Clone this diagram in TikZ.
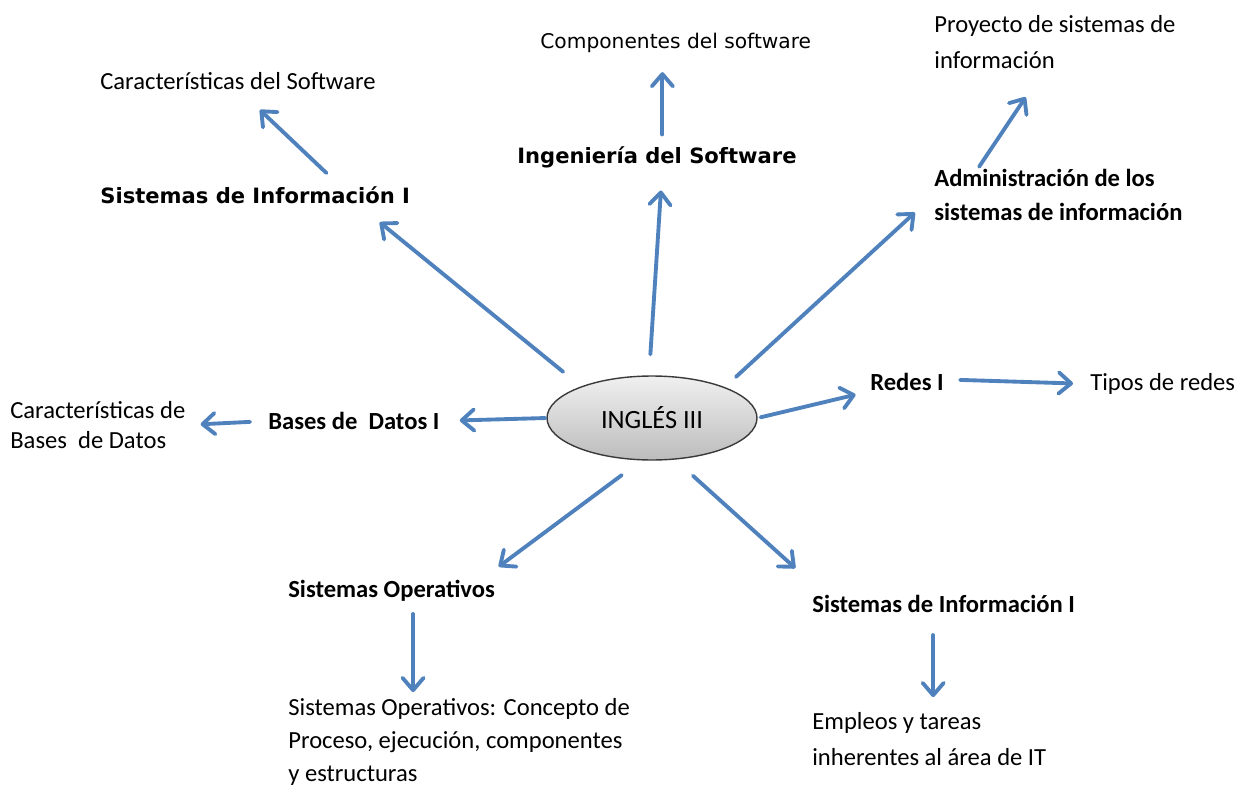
\documentclass[tikz,border=0pt]{standalone}
\usepackage{fontspec}
\setmainfont{Carlito}
\newfontfamily\vfont{DejaVu Sans}
\usepackage{xcolor}
\usetikzlibrary{arrows.meta,shapes.geometric}
\definecolor{arrowblue}{HTML}{4F81BD}
\definecolor{ovalline}{HTML}{3A3A3A}
\definecolor{ovaltop}{HTML}{F0F0F0}
\definecolor{ovalbottom}{HTML}{BCBCBC}

\begin{document}
\begin{tikzpicture}[x=0.02cm,y=-0.02cm,
        txt/.style={anchor=west,inner sep=0pt,align=left,font={\fontsize{14}{19.5}\selectfont}},
        txtb/.style={txt,font={\fontsize{14}{19.5}\selectfont\bfseries}},
        vtxt/.style={txt,font={\vfont\fontsize{12}{15}\selectfont\bfseries}},
        link/.style={arrowblue,line width=2.2pt,line cap=round,-{Straight Barb[length=7pt,width=12pt,round]}}]
        \useasboundingbox (0,0) rectangle (1246,790);
        \node[ellipse,draw=ovalline,line width=0.8pt,top color=ovaltop,bottom color=ovalbottom,
            minimum width=4.2cm,minimum height=1.68cm,inner sep=0pt,font={\fontsize{15}{18}\selectfont}] (root) at (652,418) {INGLÉS III};

        \node[txt] (car1) at (100,81) {Características del Software};
        \node[vtxt] (si1) at (100,195) {Sistemas de Información I};
        \node[txt,font={\vfont\fontsize{11.5}{14}\selectfont}] (comp) at (540,43) {Componentes del software};
        \node[vtxt] (ing) at (517,157) {Ingeniería del Software};
        \node[txt,font={\fontsize{14}{20.4}\selectfont}] (proy) at (934,42) {Proyecto de sistemas de\\información};
        \node[txtb] (adm) at (934,195) {Administración de los\\sistemas de información};
        \node[txtb] (redes) at (870,382) {Redes I};
        \node[txt] (tipos) at (1090,384) {Tipos de redes};
        \node[txtb] (bases) at (268,421) {Bases de\ \ Datos I};
        \node[txt,font={\fontsize{14}{17}\selectfont}] (carbd) at (10,425) {Características de\\Bases\ \ de Datos};
        \node[txtb] (so) at (288,591) {Sistemas Operativos};
        \node[txt,font={\fontsize{14}{18.8}\selectfont}] (socon) at (288,742) {Sistemas Operativos: Concepto de\\Proceso, ejecución, componentes\\y estructuras};
        \node[txtb] (si2) at (812,604) {Sistemas de Información I};
        \node[txt,font={\fontsize{14}{20.4}\selectfont}] (empl) at (812,739) {Empleos y tareas\\inherentes al área de IT};

        \draw[link,shorten <=0.46cm,shorten >=0.58cm] (root.156) -- (si1.-5);
        \draw[link,shorten <=0.38cm,shorten >=0.58cm] (si1.6) -- (car1.-84);
        \draw[link,shorten <=0.42cm,shorten >=0.45cm] (root.94) -- (ing.-64);
        \draw[link,shorten <=0.23cm,shorten >=0.38cm] (ing.64) -- (ing.64 |- comp.south);
        \draw[link,shorten <=0.3cm,shorten >=0.52cm] (root.23) -- (adm.west);
        \draw[link,shorten <=0.05cm,shorten >=0.68cm] (adm.162) -- (proy.-111);
        \draw[link,shorten <=0.06cm,shorten >=0.31cm] (root.0) -- (redes.194);
        \draw[link,shorten <=0.32cm,shorten >=0.34cm] (redes.4) -- (tipos.west);
        \draw[link,shorten <=0.02cm,shorten >=0.4cm] (root.west) -- (bases.east);
        \draw[link,shorten <=0.36cm,shorten >=0.3cm] (bases.west) -- (carbd.east);
        \draw[link,shorten <=0.49cm,shorten >=0.45cm] (root.-104) -- (so.7);
        \draw[link,shorten <=0.24cm,shorten >=0.12cm] (so.-27) -- (so.-27 |- socon.north);
        \draw[link,shorten <=0.48cm,shorten >=0.8cm] (root.-61) -- ([xshift=0.26cm]si2.north west);
        \draw[link,shorten <=0.44cm,shorten >=0.3cm] (si2.-139) -- (si2.-139 |- empl.north);
    \end{tikzpicture}
\end{document}
